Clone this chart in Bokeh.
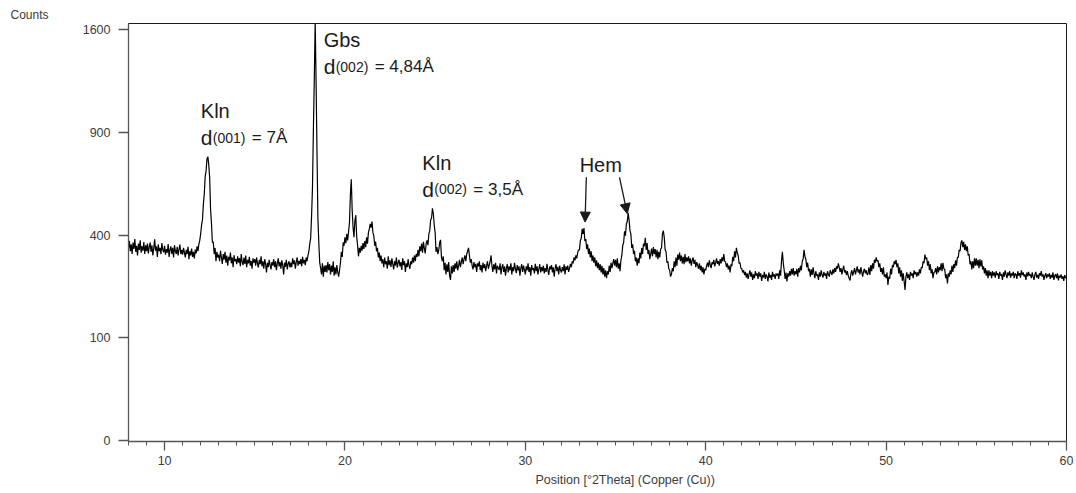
import numpy as np
from bokeh.plotting import figure
from bokeh.models import (Range1d, FixedTicker, Label, Arrow, NormalHead,
                          ColumnDataSource, Title)
from bokeh.embed import file_html
from bokeh.resources import INLINE

# Scan: 8.00 to 60.00 deg 2-theta, step 0.05 deg (one row of counts per degree)
scan_start = 8.0
scan_step = 0.05
counts_rows = [
    [352, 378, 340, 365, 330, 372, 348, 385, 338, 360, 325, 368, 345, 380, 335, 358, 342, 374, 330, 362],  # 8
    [340, 368, 332, 356, 372, 338, 362, 325, 350, 384, 342, 358, 320, 365, 340, 352, 330, 370, 345, 336],  # 9
    [360, 328, 348, 335, 366, 320, 345, 358, 330, 352, 318, 362, 340, 330, 356, 325, 348, 364, 330, 345],  # 10
    [328, 352, 335, 318, 345, 330, 356, 312, 340, 325, 350, 320, 338, 315, 346, 332, 358, 340, 365, 380],  # 11
    [405, 440, 462, 530, 575, 660, 690, 752, 765, 720, 655, 505, 448, 372, 375, 330, 352, 305, 338, 318],  # 12
    [328, 305, 342, 318, 296, 330, 310, 338, 300, 325, 290, 320, 308, 335, 298, 318, 285, 326, 305, 312],  # 13
    [295, 322, 300, 316, 288, 330, 302, 292, 318, 296, 325, 285, 310, 298, 320, 290, 306, 280, 315, 300],  # 14
    [312, 290, 318, 298, 284, 310, 295, 322, 288, 305, 280, 312, 296, 268, 300, 285, 310, 292, 278, 302],  # 15
    [290, 312, 285, 305, 275, 298, 315, 288, 302, 280, 308, 292, 262, 300, 286, 310, 278, 296, 305, 284],  # 16
    [300, 285, 315, 295, 308, 280, 302, 318, 290, 306, 295, 312, 288, 320, 298, 310, 292, 318, 305, 325],  # 17
    [340, 368, 390, 480, 610, 920, 1240, 1670, 1210, 790, 470, 372, 300, 282, 262, 298, 255, 290, 270, 292],  # 18
    [268, 302, 275, 295, 262, 290, 270, 305, 258, 285, 262, 292, 270, 255, 275, 300, 338, 320, 372, 360],  # 19
    [392, 370, 405, 380, 415, 450, 572, 648, 505, 430, 392, 458, 482, 395, 362, 322, 352, 335, 360, 342],  # 20
    [370, 348, 378, 355, 392, 368, 410, 425, 445, 430, 455, 410, 398, 360, 375, 340, 352, 318, 335, 305],  # 21
    [325, 298, 312, 285, 318, 295, 305, 280, 322, 292, 308, 286, 315, 296, 278, 305, 290, 318, 284, 300],  # 22
    [310, 288, 302, 276, 315, 292, 305, 270, 298, 285, 312, 290, 280, 305, 295, 318, 300, 325, 305, 330],  # 23
    [320, 345, 322, 358, 340, 368, 335, 375, 350, 332, 368, 380, 362, 405, 418, 462, 470, 512, 488, 440],  # 24
    [410, 338, 355, 330, 345, 372, 382, 318, 305, 322, 275, 300, 262, 295, 270, 302, 258, 245, 288, 265],  # 25
    [292, 270, 298, 280, 305, 275, 290, 310, 285, 302, 318, 295, 312, 325, 305, 330, 340, 352, 325, 300],  # 26
    [312, 290, 278, 302, 285, 296, 270, 298, 288, 305, 275, 292, 268, 300, 282, 295, 272, 290, 305, 280],  # 27
    [292, 305, 325, 288, 270, 295, 278, 300, 265, 290, 282, 276, 298, 262, 285, 295, 270, 288, 258, 282],  # 28
    [295, 268, 288, 275, 298, 262, 285, 272, 300, 280, 266, 292, 275, 288, 258, 282, 295, 270, 290, 276],  # 29
    [262, 288, 275, 298, 270, 285, 258, 292, 276, 282, 265, 296, 272, 288, 262, 280, 295, 268, 285, 272],  # 30
    [290, 265, 282, 270, 296, 275, 260, 288, 278, 292, 268, 285, 255, 280, 295, 272, 286, 262, 290, 276],  # 31
    [268, 285, 272, 295, 262, 288, 276, 290, 270, 282, 296, 285, 305, 298, 318, 308, 325, 315, 335, 345],  # 32
    [345, 380, 388, 425, 405, 428, 378, 385, 348, 365, 330, 350, 318, 340, 305, 325, 300, 318, 288, 308],  # 33
    [282, 300, 275, 295, 268, 290, 262, 282, 255, 275, 250, 272, 262, 290, 270, 300, 282, 298, 312, 290],  # 34
    [310, 285, 315, 280, 298, 272, 310, 325, 362, 372, 415, 398, 445, 455, 492, 462, 418, 405, 352, 365],  # 35
    [330, 342, 305, 318, 290, 315, 298, 335, 315, 352, 330, 368, 358, 390, 345, 370, 330, 345, 312, 330],  # 36
    [350, 322, 355, 330, 348, 318, 345, 312, 338, 318, 348, 352, 405, 418, 392, 345, 338, 300, 305, 280],  # 37
    [275, 255, 262, 282, 272, 305, 285, 318, 290, 328, 310, 335, 305, 325, 298, 320, 295, 330, 302, 318],  # 38
    [305, 322, 298, 315, 290, 308, 318, 296, 310, 285, 302, 292, 280, 298, 275, 290, 268, 285, 262, 280],  # 39
    [275, 290, 300, 285, 308, 292, 282, 302, 295, 310, 288, 300, 315, 296, 305, 290, 312, 298, 318, 305],  # 40
    [330, 305, 302, 285, 298, 278, 290, 268, 295, 288, 320, 305, 340, 318, 352, 335, 325, 298, 300, 282],  # 41
    [280, 268, 275, 260, 270, 252, 265, 248, 262, 275, 255, 268, 245, 262, 250, 272, 258, 265, 248, 270],  # 42
    [255, 265, 242, 260, 252, 270, 248, 262, 255, 240, 268, 252, 260, 245, 270, 255, 262, 248, 265, 258],  # 43
    [265, 248, 275, 258, 305, 338, 298, 275, 248, 268, 240, 265, 255, 272, 258, 280, 262, 282, 258, 272],  # 44
    [262, 280, 255, 282, 268, 290, 275, 305, 312, 345, 322, 312, 285, 300, 272, 280, 255, 278, 260, 285],  # 45
    [265, 250, 272, 258, 262, 245, 268, 255, 275, 260, 252, 270, 258, 265, 248, 272, 262, 255, 275, 268],  # 46
    [260, 278, 265, 282, 270, 288, 280, 298, 285, 270, 282, 262, 278, 290, 268, 275, 260, 272, 258, 250],  # 47
    [243, 265, 275, 258, 270, 282, 262, 275, 288, 268, 278, 262, 285, 270, 255, 272, 280, 265, 275, 260],  # 48
    [265, 285, 260, 292, 272, 298, 280, 310, 300, 318, 305, 308, 285, 298, 270, 282, 262, 285, 255, 262],  # 49
    [250, 268, 230, 255, 248, 280, 262, 292, 285, 305, 295, 310, 285, 298, 265, 285, 255, 275, 242, 265],  # 50
    [240, 215, 255, 268, 250, 262, 245, 270, 258, 265, 250, 275, 262, 270, 255, 268, 258, 278, 265, 285],  # 51
    [282, 305, 298, 328, 312, 318, 290, 305, 275, 295, 265, 278, 250, 268, 270, 282, 262, 288, 268, 285],  # 52
    [275, 298, 272, 300, 280, 278, 250, 262, 234, 265, 255, 275, 262, 290, 270, 295, 282, 308, 290, 318],  # 53
    [318, 345, 340, 372, 380, 355, 375, 345, 365, 340, 358, 325, 330, 295, 305, 278, 305, 282, 315, 290],  # 54
    [315, 290, 310, 282, 312, 288, 308, 278, 288, 265, 282, 258, 275, 250, 275, 258, 270, 250, 272, 258],  # 55
    [268, 252, 272, 260, 265, 248, 270, 258, 262, 245, 268, 255, 275, 262, 250, 268, 258, 272, 252, 265],  # 56
    [258, 270, 250, 265, 262, 248, 272, 258, 266, 252, 275, 260, 268, 255, 262, 245, 268, 256, 270, 258],  # 57
    [262, 250, 268, 255, 245, 262, 270, 252, 260, 248, 266, 258, 272, 255, 262, 245, 258, 266, 250, 262],  # 58
    [255, 265, 248, 260, 252, 268, 245, 258, 262, 250, 265, 243, 258, 252, 262, 248, 256, 242, 260, 250],  # 59
    [255],                                                                                                  # 60
]

count_ticks = [0, 100, 400, 900, 1600]
angle_ticks = [10, 20, 30, 40, 50, 60]

counts = np.array([c for row in counts_rows for c in row], dtype=float)
two_theta = scan_start + scan_step * np.arange(len(counts))

# square-root intensity axis
src = ColumnDataSource(dict(x=two_theta, y=np.sqrt(counts), counts=counts))

FONT = "Liberation Sans"
TICK_COLOR = "#3c3c3c"
INK = "#1a1a1a"

p = figure(width=1076, height=493, output_backend="svg", toolbar_location=None,
           x_range=Range1d(8, 60), y_range=Range1d(-0.1, 40.63),
           min_border_left=128, min_border_right=10,
           min_border_top=23, min_border_bottom=52)
p.background_fill_color = "white"
p.border_fill_color = "white"
p.outline_line_color = INK
p.outline_line_width = 1
p.xgrid.visible = False
p.ygrid.visible = False

# "Counts" caption, top-left corner
p.title.text = "Counts"
p.title.align = "left"
p.title.offset = -118
p.title.standoff = 4
p.title.text_font = FONT
p.title.text_font_size = "12px"
p.title.text_font_style = "normal"
p.title.text_color = TICK_COLOR

p.line("x", "y", source=src, line_color="black", line_width=1.2)

# y axis: sqrt scale, labelled in counts
p.yaxis.ticker = FixedTicker(ticks=[float(np.sqrt(v)) for v in count_ticks])
p.yaxis.major_label_overrides = {float(np.sqrt(v)): str(v) for v in count_ticks}
p.yaxis.major_tick_in = 0
p.yaxis.major_tick_out = 10
p.yaxis.major_label_standoff = 8

p.xaxis.ticker = FixedTicker(ticks=angle_ticks,
                             minor_ticks=list(range(8, 61)))
p.xaxis.major_tick_in = 0
p.xaxis.major_tick_out = 9
p.xaxis.minor_tick_in = 0
p.xaxis.minor_tick_out = 4
p.xaxis.major_label_standoff = 5

for ax in (p.xaxis, p.yaxis):
    ax.axis_line_color = "#555555"
    ax.axis_line_width = 1.3
    ax.major_tick_line_color = "#555555"
    ax.major_tick_line_width = 1.3
    ax.minor_tick_line_color = "#555555"
    ax.major_label_text_font = FONT
    ax.major_label_text_font_size = "12.5px"
    ax.major_label_text_color = TICK_COLOR
p.yaxis.minor_tick_line_color = None

# x-axis caption, below the tick labels
p.add_layout(Title(text="Position [°2Theta] (Copper (Cu))", align="left",
                   offset=407, standoff=6, text_font=FONT,
                   text_font_size="12.5px", text_font_style="normal",
                   text_color=TICK_COLOR), "below")


def phase_label(x, y, name, hkl, dval, lift=8, name_dy=27):
    """Phase name above a d-spacing line 'd(hkl) = value'."""
    p.add_layout(Label(x=x, y=y, y_offset=name_dy + lift, text=name,
                       text_font=FONT, text_font_size="20px", text_color=INK,
                       text_baseline="alphabetic"))
    p.add_layout(Label(x=x, y=y, y_offset=lift, text="d", text_font=FONT,
                       text_font_size="21px", text_color=INK,
                       text_baseline="alphabetic"))
    p.add_layout(Label(x=x, y=y, x_offset=12, y_offset=lift, text=hkl,
                       text_font=FONT, text_font_size="14px", text_color=INK,
                       text_baseline="alphabetic"))
    p.add_layout(Label(x=x, y=y, x_offset=51, y_offset=lift, text="= " + dval,
                       text_font=FONT, text_font_size="17px", text_color=INK,
                       text_baseline="alphabetic"))


phase_label(12.01, 28.72, "Kln", "(001)", "7Å")
phase_label(18.82, 35.64, "Gbs", "(002)", "4,84Å")
phase_label(24.29, 23.69, "Kln", "(002)", "3,5Å", name_dy=26)

p.add_layout(Label(x=33.01, y=26.03, y_offset=8, text="Hem", text_font=FONT,
                   text_font_size="20px", text_color=INK,
                   text_baseline="alphabetic"))
for xs, ys, xe, ye in [(33.38, 25.64, 33.31, 21.28), (35.22, 25.64, 35.65, 22.10)]:
    p.add_layout(Arrow(x_start=xs, y_start=ys, x_end=xe, y_end=ye,
                       line_color=INK, line_width=1.3,
                       end=NormalHead(size=10, fill_color=INK, line_color=INK)))

open("out.html", "w").write(file_html(p, INLINE))
